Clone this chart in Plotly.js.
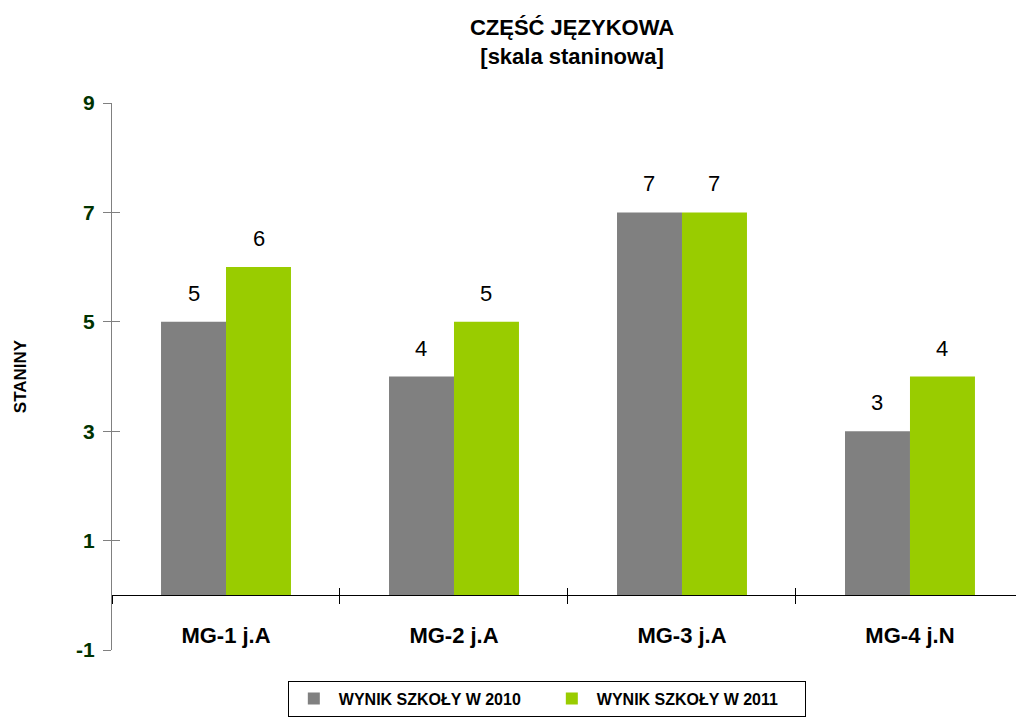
<!DOCTYPE html>
<html>
<head>
<meta charset="utf-8">
<script src="https://cdn.plot.ly/plotly-3.0.1.min.js"></script>
<style>html,body{margin:0;padding:0;background:#fff;}#chart{width:1016px;height:720px;}</style>
</head>
<body>
<div id="chart"></div>
<script>
var categories = ["MG-1 j.A", "MG-2 j.A", "MG-3 j.A", "MG-4 j.N"];
var series2010 = [5, 4, 7, 3];
var series2011 = [6, 5, 7, 4];
var seriesNames = ["WYNIK SZKOŁY W 2010", "WYNIK SZKOŁY W 2011"];
var yTicks = [-1, 1, 3, 5, 7, 9];

var FONT = "Liberation Sans, Arial, sans-serif";
var BAR_HALF = 32.5; // px offset of each bar centre from the category centre

var traces = [
  {type:"bar", x:categories, y:series2010, name:seriesNames[0], marker:{color:"#808080"}},
  {type:"bar", x:categories, y:series2011, name:seriesNames[1], marker:{color:"#99CC00"}},
  // empty helper traces so the overlay axes (crossing tick marks) are drawn
  {type:"scatter", mode:"markers", x:categories, y:categories.map(function(){return null;}),
   xaxis:"x", yaxis:"y2", showlegend:false, hoverinfo:"skip"},
  {type:"scatter", mode:"markers", x:categories, y:categories.map(function(){return null;}),
   xaxis:"x2", yaxis:"y", showlegend:false, hoverinfo:"skip"}
];

var annotations = [];
function addLabels(vals, shift) {
  for (var i = 0; i < categories.length; i++) {
    annotations.push({x:categories[i], y:vals[i], xref:"x", yref:"y", text:String(vals[i]),
      showarrow:false, xanchor:"center", yanchor:"bottom", xshift:shift, yshift:14,
      font:{family:FONT, size:22, color:"#000"}});
  }
}
addLabels(series2010, -BAR_HALF);
addLabels(series2011, BAR_HALF);

var layout = {
  width:1016, height:720,
  margin:{l:112, r:0, t:103, b:70},
  paper_bgcolor:"#fff", plot_bgcolor:"#fff",
  barmode:"group", bargap:0.43, bargroupgap:0,
  annotations:annotations,
  title:{text:"<b>CZĘŚĆ JĘZYKOWA<br>[skala staninowa]</b>", x:0.563, xanchor:"center", y:0.951, yanchor:"top",
         font:{family:FONT, size:22, color:"#000"}},
  xaxis:{type:"category", categoryarray:categories, range:[-0.5, 3.465], anchor:"free", position:0.1,
         showline:true, linecolor:"#000", linewidth:1,
         ticks:"outside", ticklen:8, tickcolor:"#000", tickson:"boundaries", showgrid:false, zeroline:false,
         ticklabelstandoff:20,
         tickfont:{family:FONT, size:22, color:"#000", weight:"bold"}},
  xaxis2:{type:"category", categoryarray:categories, range:[-0.5, 3.465], overlaying:"x", anchor:"free", position:0.1,
          showline:false, ticks:"inside", ticklen:7, tickcolor:"#000", tickson:"boundaries",
          showticklabels:false, showgrid:false, zeroline:false},
  yaxis:{range:[-1, 9], tickvals:yTicks, ticktext:yTicks.map(String), showline:true, linecolor:"#808080", linewidth:1,
         ticks:"outside", ticklen:8, tickcolor:"#808080", showgrid:false, zeroline:false, ticklabelstandoff:4,
         tickfont:{family:FONT, size:21, color:"#003300", weight:"bold"},
         title:{text:"<b>STANINY</b>", font:{family:FONT, size:17, color:"#000"}, standoff:45}},
  yaxis2:{range:[-1, 9], overlaying:"y", side:"left", anchor:"x", tickvals:yTicks, showticklabels:false, showline:false,
          ticks:"inside", ticklen:8, tickcolor:"#808080", showgrid:false, zeroline:false},
  showlegend:true,
  legend:{orientation:"h", x:0.481, xanchor:"center", y:-0.056, yanchor:"top",
          bordercolor:"#000", borderwidth:1, bgcolor:"#fff",
          entrywidth:203, itemwidth:40,
          font:{family:FONT, size:16, color:"#000", weight:"bold"}}
};

Plotly.newPlot("chart", traces, layout, {displayModeBar:false, staticPlot:true});
</script>
</body>
</html>
